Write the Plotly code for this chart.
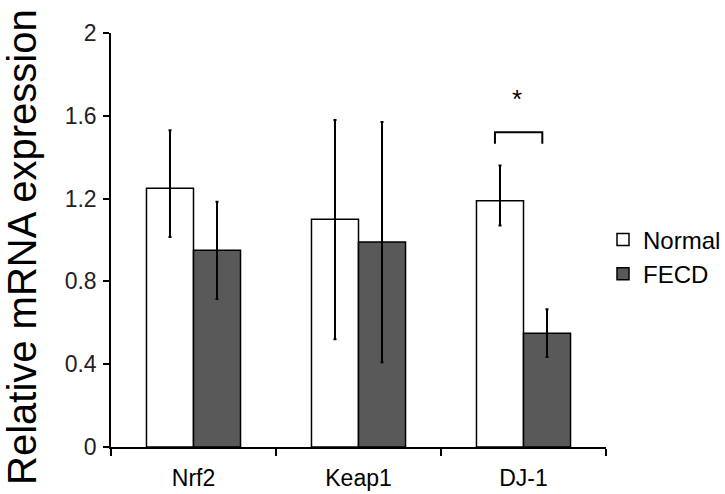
import plotly.graph_objects as go

categories = ["Nrf2", "Keap1", "DJ-1"]
normal_vals = [1.25, 1.10, 1.19]
normal_err_plus = [0.28, 0.48, 0.17]
normal_err_minus = [0.235, 0.58, 0.12]
fecd_vals = [0.95, 0.99, 0.55]
fecd_err_plus = [0.235, 0.58, 0.115]
fecd_err_minus = [0.235, 0.58, 0.115]
y_ticks = [0, 0.4, 0.8, 1.2, 1.6, 2]
y_tick_labels = ["0", "0.4", "0.8", "1.2", "1.6", "2"]

FONT = "Liberation Sans, Arial, sans-serif"
W, H = 725, 494
ML, MR, MT, MB = 111, 119, 33, 47

fig = go.Figure()
fig.add_trace(go.Bar(
    name="Normal", x=categories, y=normal_vals,
    marker=dict(color="white", line=dict(color="black", width=1.5)),
    error_y=dict(type="data", symmetric=False, array=normal_err_plus,
                 arrayminus=normal_err_minus, color="black", thickness=2, width=1.5),
))
fig.add_trace(go.Bar(
    name="FECD", x=categories, y=fecd_vals,
    marker=dict(color="#595959", line=dict(color="black", width=1.5)),
    error_y=dict(type="data", symmetric=False, array=fecd_err_plus,
                 arrayminus=fecd_err_minus, color="black", thickness=2, width=1.5),
))

# significance bracket for DJ-1
fig.add_shape(type="path", xref="x", yref="y",
              path="M 1.827,1.465 L 1.827,1.521 L 2.114,1.521 L 2.114,1.465",
              line=dict(color="black", width=2))
fig.add_annotation(x=1.959, y=1.683, xref="x", yref="y", text="*", showarrow=False,
                   font=dict(family=FONT, size=26, color="black"))

# y axis title (pixel position converted to paper coords)
fig.add_annotation(x=(22 - ML) / (W - ML - MR), y=(H - MB - 247) / (H - MT - MB),
                   xref="paper", yref="paper",
                   text="Relative mRNA expression", textangle=-90, showarrow=False,
                   xanchor="center", yanchor="middle",
                   font=dict(family=FONT, size=40, color="black"))

fig.update_layout(
    width=W, height=H,
    margin=dict(l=ML, r=MR, t=MT, b=MB, pad=0, autoexpand=False),
    paper_bgcolor="white", plot_bgcolor="white",
    barmode="group", bargap=0.43, bargroupgap=0,
    font=dict(family=FONT, color="black"),
    legend=dict(xref="container", yref="container", x=603 / W, xanchor="left",
                y=1 - 257 / H, yanchor="middle",
                font=dict(family=FONT, size=24, color="black"),
                bgcolor="rgba(0,0,0,0)", itemwidth=30, tracegroupgap=0),
    showlegend=True,
)

fig.update_xaxes(
    showline=True, linecolor="black", linewidth=1.5,
    ticks="outside", tickson="boundaries", ticklen=7, tickwidth=1.5, tickcolor="black",
    tickfont=dict(family=FONT, size=23, color="black"),
    showgrid=False, zeroline=False, ticklabelstandoff=10, automargin=False,
)
fig.update_yaxes(
    range=[0, 2], tickvals=y_ticks, ticktext=y_tick_labels,
    showline=True, linecolor="black", linewidth=1.5,
    ticks="outside", ticklen=6, tickwidth=1.5, tickcolor="black",
    tickfont=dict(family=FONT, size=23, color="#222222"),
    showgrid=False, zeroline=False, ticklabelstandoff=2, automargin=False,
)

fig.write_html("out.html", config={"displayModeBar": False},
               post_script="document.body.style.margin='0';document.body.style.overflow='hidden';")
